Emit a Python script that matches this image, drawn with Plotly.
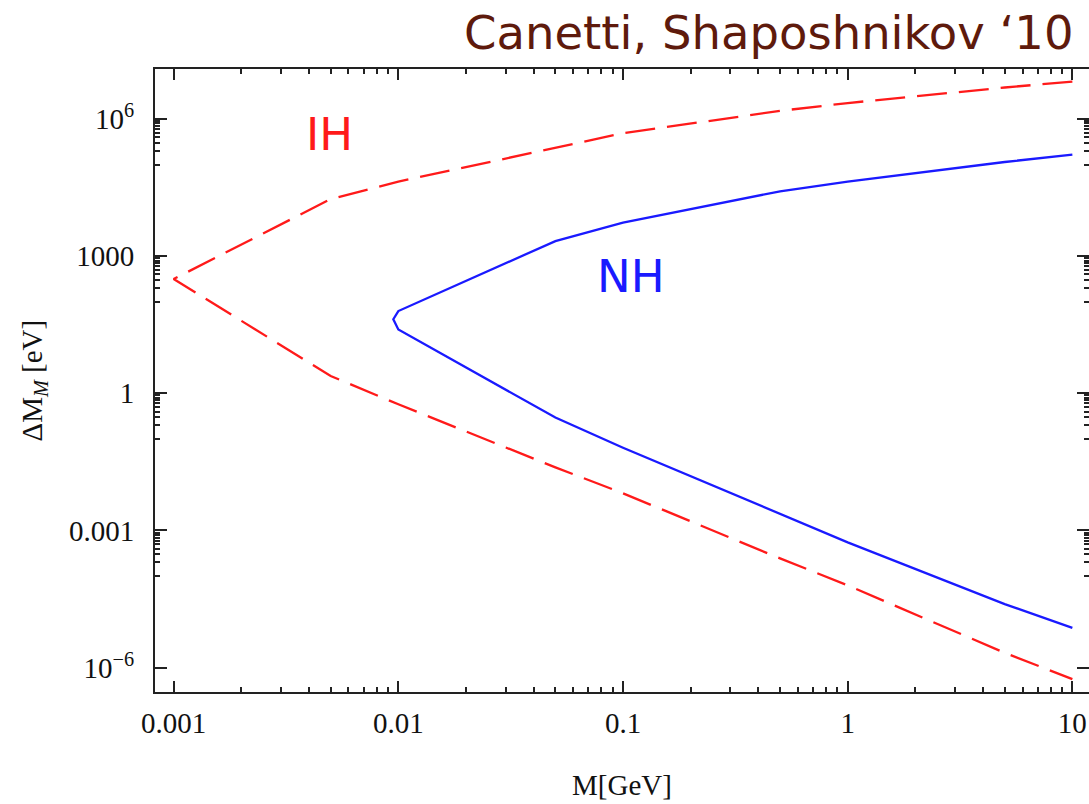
import plotly.graph_objects as go

# Heavy neutrino mass M [GeV] and mass splitting bounds ΔM_M [eV]
ih_mass = [0.001, 0.005, 0.01, 0.05, 0.1, 0.5, 1, 5, 10]
ih_upper = [316, 1.78e4, 4.27e4, 2.34e5, 4.9e5, 1.51e6, 2.24e6, 4.9e6, 6.6e6]
ih_lower = [316, 2.4, 0.575, 0.024, 6.5e-3, 2.45e-4, 6.3e-5, 2.1e-6, 5.6e-7]

nh_mass = [0.0095, 0.01, 0.05, 0.1, 0.5, 1, 5, 10]
nh_upper = [41.7, 63, 2140, 5400, 2.63e4, 4.3e4, 1.15e5, 1.66e5]
nh_lower = [41.7, 25, 0.295, 0.0646, 2.3e-3, 5.5e-4, 2.45e-5, 7.4e-6]

x_ticks = [0.001, 0.01, 0.1, 1, 10]
x_ticktext = ["0.001", "0.01", "0.1", "1", "10"]
y_ticks = [1e-6, 1e-3, 1, 1e3, 1e6]
y_ticktext = ["10<sup>\u22126</sup>", "0.001", "1", "1000", "10<sup>6</sup>"]

x_minor = [k * 10.0 ** e for e in range(-3, 1) for k in range(2, 10)]
y_minor = [k * 10.0 ** e for e in (-4, -1, 2, 5) for k in range(1, 10)]

X_RANGE = [-3.083, 1.074]
Y_RANGE = [-6.534, 7.095]


def closed_curve(mass, upper, lower):
    xs = list(reversed(mass)) + list(mass[1:])
    ys = list(reversed(upper)) + list(lower[1:])
    return xs, ys


ih_x, ih_y = closed_curve(ih_mass, ih_upper, ih_lower)
nh_x, nh_y = closed_curve(nh_mass, nh_upper, nh_lower)

fig = go.Figure()
fig.add_trace(go.Scatter(x=ih_x, y=ih_y, mode="lines",
                         line=dict(color="#ff1a1a", width=2.3, dash="30px,12px"),
                         showlegend=False, hoverinfo="skip"))
fig.add_trace(go.Scatter(x=nh_x, y=nh_y, mode="lines",
                         line=dict(color="#1a1aff", width=2.3),
                         showlegend=False, hoverinfo="skip"))
# empty helper traces so the extra tick-only axes get drawn
for xa, ya in (("x2", "y2"), ("x3", "y3"), ("x4", "y4")):
    fig.add_trace(go.Scatter(x=nh_x, y=nh_y, mode="none", xaxis=xa, yaxis=ya,
                             showlegend=False, hoverinfo="skip"))

tick_font = dict(family="Liberation Serif", size=29, color="#111111")
frame = "#222222"


def x_axis(vals, length, **kw):
    return dict(type="log", range=X_RANGE, ticks="inside", ticklen=length,
                tickwidth=1.5, tickcolor=frame, tickmode="array", tickvals=vals,
                showgrid=False, zeroline=False, **kw)


def y_axis(vals, length, **kw):
    return dict(type="log", range=Y_RANGE, ticks="inside", ticklen=length,
                tickwidth=1.5, tickcolor=frame, tickmode="array", tickvals=vals,
                showgrid=False, zeroline=False, **kw)


fig.update_layout(
    width=1089, height=804,
    margin=dict(l=155, r=0, t=69, b=112, autoexpand=False),
    paper_bgcolor="white", plot_bgcolor="white",
    # main axes: bottom / left with labels
    xaxis=x_axis(x_ticks, 11, ticktext=x_ticktext, tickfont=tick_font,
                 showline=True, linecolor=frame, linewidth=2, ticklabelstandoff=4),
    yaxis=y_axis(y_ticks, 12, ticktext=y_ticktext, tickfont=tick_font,
                 showline=True, linecolor=frame, linewidth=2, ticklabelstandoff=13),
    # mirrored major ticks: top / right
    xaxis2=x_axis(x_ticks, 11, overlaying="x", side="top", anchor="y",
                  showticklabels=False, showline=True, linecolor=frame, linewidth=2),
    yaxis2=y_axis(y_ticks, 12, overlaying="y", side="right", anchor="x",
                  showticklabels=False, showline=False),
    # minor ticks: bottom / left
    xaxis3=x_axis(x_minor, 5, overlaying="x", side="bottom", anchor="y",
                  showticklabels=False, showline=False),
    yaxis3=y_axis(y_minor, 5, overlaying="y", side="left", anchor="x",
                  showticklabels=False, showline=False),
    # minor ticks: top / right
    xaxis4=x_axis(x_minor, 5, overlaying="x", side="top", anchor="y",
                  showticklabels=False, showline=False),
    yaxis4=y_axis(y_minor, 5, overlaying="y", side="right", anchor="x",
                  showticklabels=False, showline=False),
)

fig.add_annotation(text="M[GeV]", xref="paper", yref="paper", x=0.5, y=0,
                   xanchor="center", yanchor="top", yshift=-75, showarrow=False,
                   font=dict(family="Liberation Serif", size=29, color="#111111"))
fig.add_annotation(text="\u0394M<sub><i>M</i></sub> [eV]", xref="paper", yref="paper",
                   x=0, y=0.5, xanchor="center", yanchor="middle", xshift=-122,
                   textangle=-90, showarrow=False,
                   font=dict(family="Liberation Serif", size=29, color="#111111"))
fig.add_annotation(text="Canetti, Shaposhnikov \u201810", xref="paper", yref="paper",
                   x=1, y=1, xanchor="right", yanchor="middle", xshift=-13, yshift=36,
                   showarrow=False,
                   font=dict(family="DejaVu Sans", size=46.5, color="#5e1a0c"))
fig.add_annotation(text="IH", x=-2.306, y=5.67, xref="x", yref="y",
                   showarrow=False, font=dict(family="DejaVu Sans", size=45, color="#ff1a1a"))
fig.add_annotation(text="NH", x=-0.966, y=2.56, xref="x", yref="y",
                   showarrow=False, font=dict(family="DejaVu Sans", size=45, color="#1a1aff"))

fig.write_html("out.html")
